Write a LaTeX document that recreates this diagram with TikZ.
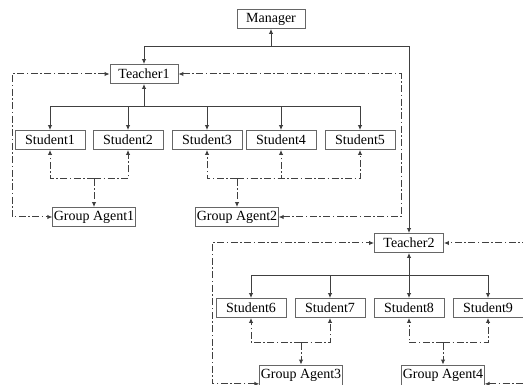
\documentclass[tikz,border=0pt]{standalone}
\usepackage{fontspec}
\setmainfont{Liberation Serif}
\usetikzlibrary{arrows.meta}

\tikzset{
  box/.style={draw=black!60, line width=0.9pt, minimum height=19pt, inner sep=1pt,
    font=\fontsize{14}{15}\selectfont},
  link/.style={draw=black!75, line width=1pt},
  dlink/.style={link, dash pattern=on 7pt off 2.5pt on 1.5pt off 2.5pt},
  tip/.style={-{Latex[length=5pt,width=4.5pt]}},
  tips/.style={{Latex[length=5pt,width=4.5pt]}-{Latex[length=5pt,width=4.5pt]}}
}

\begin{document}
\begin{tikzpicture}[x=1pt,y=-1pt]
    \useasboundingbox (0,0) rectangle (523,385);
    % nodes
    \node[box, minimum width=68pt] (mgr) at (271,19) {Manager};
    \node[box, minimum width=68pt] (t1) at (144,74) {Teacher1};
    \node[box, minimum width=70pt] (s1) at (50,140) {Student1};
    \node[box, minimum width=70pt] (s2) at (128,140) {Student2};
    \node[box, minimum width=70pt] (s3) at (207,140) {Student3};
    \node[box, minimum width=70pt] (s4) at (281,140) {Student4};
    \node[box, minimum width=70pt] (s5) at (360,140) {Student5};
    \node[box, minimum width=79pt] (ga1) at (94,217) {Group Agent1};
    \node[box, minimum width=79pt] (ga2) at (237,217) {Group Agent2};
    \node[box, minimum width=69pt] (t2) at (409,243) {Teacher2};
    \node[box, minimum width=70pt] (s6) at (251,308) {Student6};
    \node[box, minimum width=70pt] (s7) at (330,308) {Student7};
    \node[box, minimum width=70pt] (s8) at (409,308) {Student8};
    \node[box, minimum width=70pt] (s9) at (488,308) {Student9};
    \node[box, minimum width=79pt, minimum height=20pt] (ga3) at (301,375) {Group Agent3};
    \node[box, minimum width=78pt, minimum height=20pt] (ga4) at (443,375) {Group Agent4};
    % buses
    \coordinate (mbus) at (271,47);
    \coordinate (t1bus) at (144,107);
    \coordinate (g1bus) at (94,179);
    \coordinate (g2bus) at (237,179);
    \coordinate (t2bus) at (409,276);
    \coordinate (g3bus) at (301,343);
    \coordinate (g4bus) at (443,343);
    \coordinate (c1) at (12,217);
    \coordinate (c2) at (401,217);
    \coordinate (c3) at (212,243);
    \coordinate (c4) at (540,243);
    % solid links
    \draw[link,tip] (mbus) -- (mgr);
    \draw[link,tip] (mbus) -| (t1);
    \draw[link,tip] (mbus) -| (t2);
    \draw[link,tip] (t1bus) -- (t1);
    \foreach \s in {s1,s2,s3,s4,s5}
        \draw[link,tip] (t1bus) -| (\s);
    \draw[link,tip] (t2bus) -- (t2);
    \foreach \s in {s6,s7,s8,s9}
        \draw[link,tip] (t2bus) -| (\s);
    % dash-dot links
    \foreach \s in {s1,s2}
        \draw[dlink,tip] (g1bus) -| (\s);
    \draw[dlink,tip] (g1bus) -- (ga1);
    \foreach \s in {s3,s4,s5}
        \draw[dlink,tip] (g2bus) -| (\s);
    \draw[dlink,tip] (g2bus) -- (ga2);
    \foreach \s in {s6,s7}
        \draw[dlink,tip] (g3bus) -| (\s);
    \draw[dlink,tip] (g3bus) -- (ga3);
    \foreach \s in {s8,s9}
        \draw[dlink,tip] (g4bus) -| (\s);
    \draw[dlink,tip] (g4bus) -- (ga4);
    \draw[dlink,tips] (t1) -| (c1) -- (ga1);
    \draw[dlink,tips] (t1) -| (c2) -- (ga2);
    \draw[dlink,tips] (ga3.-168) -| (c3) -- (t2);
    \draw[dlink,tips] (ga4.-12) -| (c4) -- (t2);
\end{tikzpicture}
\end{document}
